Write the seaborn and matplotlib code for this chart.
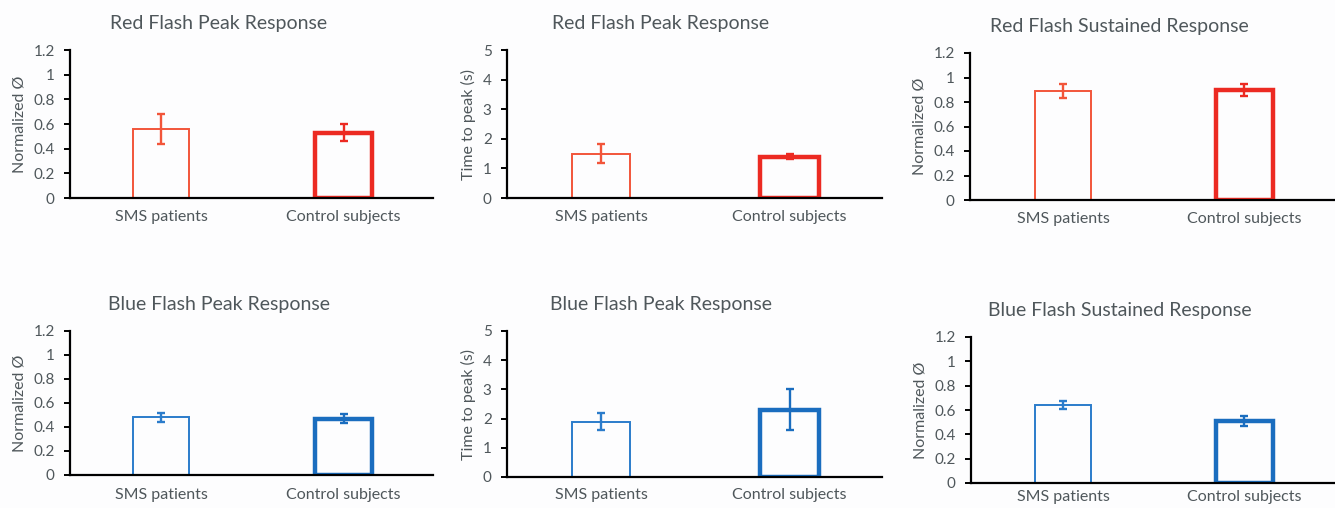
import numpy as np
import pandas as pd
import matplotlib
matplotlib.use("Agg")
import matplotlib.pyplot as plt
from matplotlib.ticker import FuncFormatter
import seaborn as sns

# data (mean and error)
groups = ["SMS patients", "Control subjects"]

titles = ["Red Flash Peak Response", "Red Flash Peak Response", "Red Flash Sustained Response",
          "Blue Flash Peak Response", "Blue Flash Peak Response", "Blue Flash Sustained Response"]
ylabels = ["Normalized Ø", "Time to peak (s)", "Normalized Ø",
           "Normalized Ø", "Time to peak (s)", "Normalized Ø"]

red_peak = [0.56, 0.53]
red_peak_err = [0.12, 0.07]
red_ttp = [1.5, 1.4]
red_ttp_err = [0.32, 0.08]
red_sust = [0.89, 0.90]
red_sust_err = [0.06, 0.05]
blue_peak = [0.48, 0.47]
blue_peak_err = [0.04, 0.04]
blue_ttp = [1.9, 2.3]
blue_ttp_err = [0.3, 0.7]
blue_sust = [0.64, 0.51]
blue_sust_err = [0.03, 0.04]

values = [red_peak, red_ttp, red_sust, blue_peak, blue_ttp, blue_sust]
errors = [red_peak_err, red_ttp_err, red_sust_err, blue_peak_err, blue_ttp_err, blue_sust_err]
ymax = [1.2, 5, 1.2, 1.2, 5, 1.2]
ystep = [0.2, 1, 0.2, 0.2, 1, 0.2]

red_cols = ["#F2553A", "#EC2A22"]
blue_cols = ["#2B7CCB", "#1A6DBF"]
colors = [red_cols, red_cols, red_cols, blue_cols, blue_cols, blue_cols]

sns.set_theme(style="white")
plt.rcParams["font.family"] = ["Lato", "DejaVu Sans"]
txt = "#4F575B"

W, H = 1335, 508
fig = plt.figure(figsize=(W / 100, H / 100), dpi=100, facecolor="#FDFDFE")

# axes boxes in pixels: left, right, top, bottom
boxes = [(70, 433, 50, 198), (507, 882, 50, 198), (970, 1335, 53, 200),
         (70, 433, 331, 475), (507, 882, 331, 477), (971, 1335, 337, 483)]
xlims = [(-0.5, 1.49), (-0.5, 1.49), (-0.515, 1.5),
         (-0.5, 1.49), (-0.5, 1.49), (-0.51, 1.5)]
xpads = [9, 9, 9, 9, 8, 5]

for i in range(6):
    l, r, t, b = boxes[i]
    ax = fig.add_axes([l / W, (H - b) / H, (r - l) / W, (b - t) / H])
    ax.set_facecolor("none")
    df = pd.DataFrame({"group": groups, "value": values[i]})
    sns.barplot(data=df, x="group", y="value", hue="group", palette=colors[i],
                fill=False, width=0.31, legend=False, ax=ax)
    for p, lw in zip(ax.patches, [1.4, 3.2]):
        p.set_linewidth(lw)
    for k in range(len(groups)):
        ax.errorbar(k, values[i][k], yerr=errors[i][k], color=colors[i][k],
                    elinewidth=1.7, capsize=3, capthick=1.7, zorder=5)
    ax.set_xlim(*xlims[i])
    ax.set_ylim(0, ymax[i])
    ax.set_yticks(np.arange(0, ymax[i] + 1e-9, ystep[i]))
    ax.yaxis.set_major_formatter(FuncFormatter(lambda v, _: f"{v:g}"))
    ax.set_xlabel("")
    ax.set_ylabel(ylabels[i], fontsize=11.5, color=txt, labelpad=5)
    for s in ["top", "right"]:
        ax.spines[s].set_visible(False)
    for s in ["left", "bottom"]:
        ax.spines[s].set_color("black")
        ax.spines[s].set_linewidth(1.6)
    ax.tick_params(axis="y", left=True, length=4, width=1.4, color="black",
                   labelsize=11, labelcolor=txt, pad=7)
    ax.tick_params(axis="x", bottom=False, length=0, labelsize=11.5,
                   labelcolor=txt, pad=xpads[i])
    ax.set_title(titles[i], x=0.41, fontsize=14, color=txt, pad=15)

fig.savefig("out.png", dpi=100, facecolor=fig.get_facecolor())
